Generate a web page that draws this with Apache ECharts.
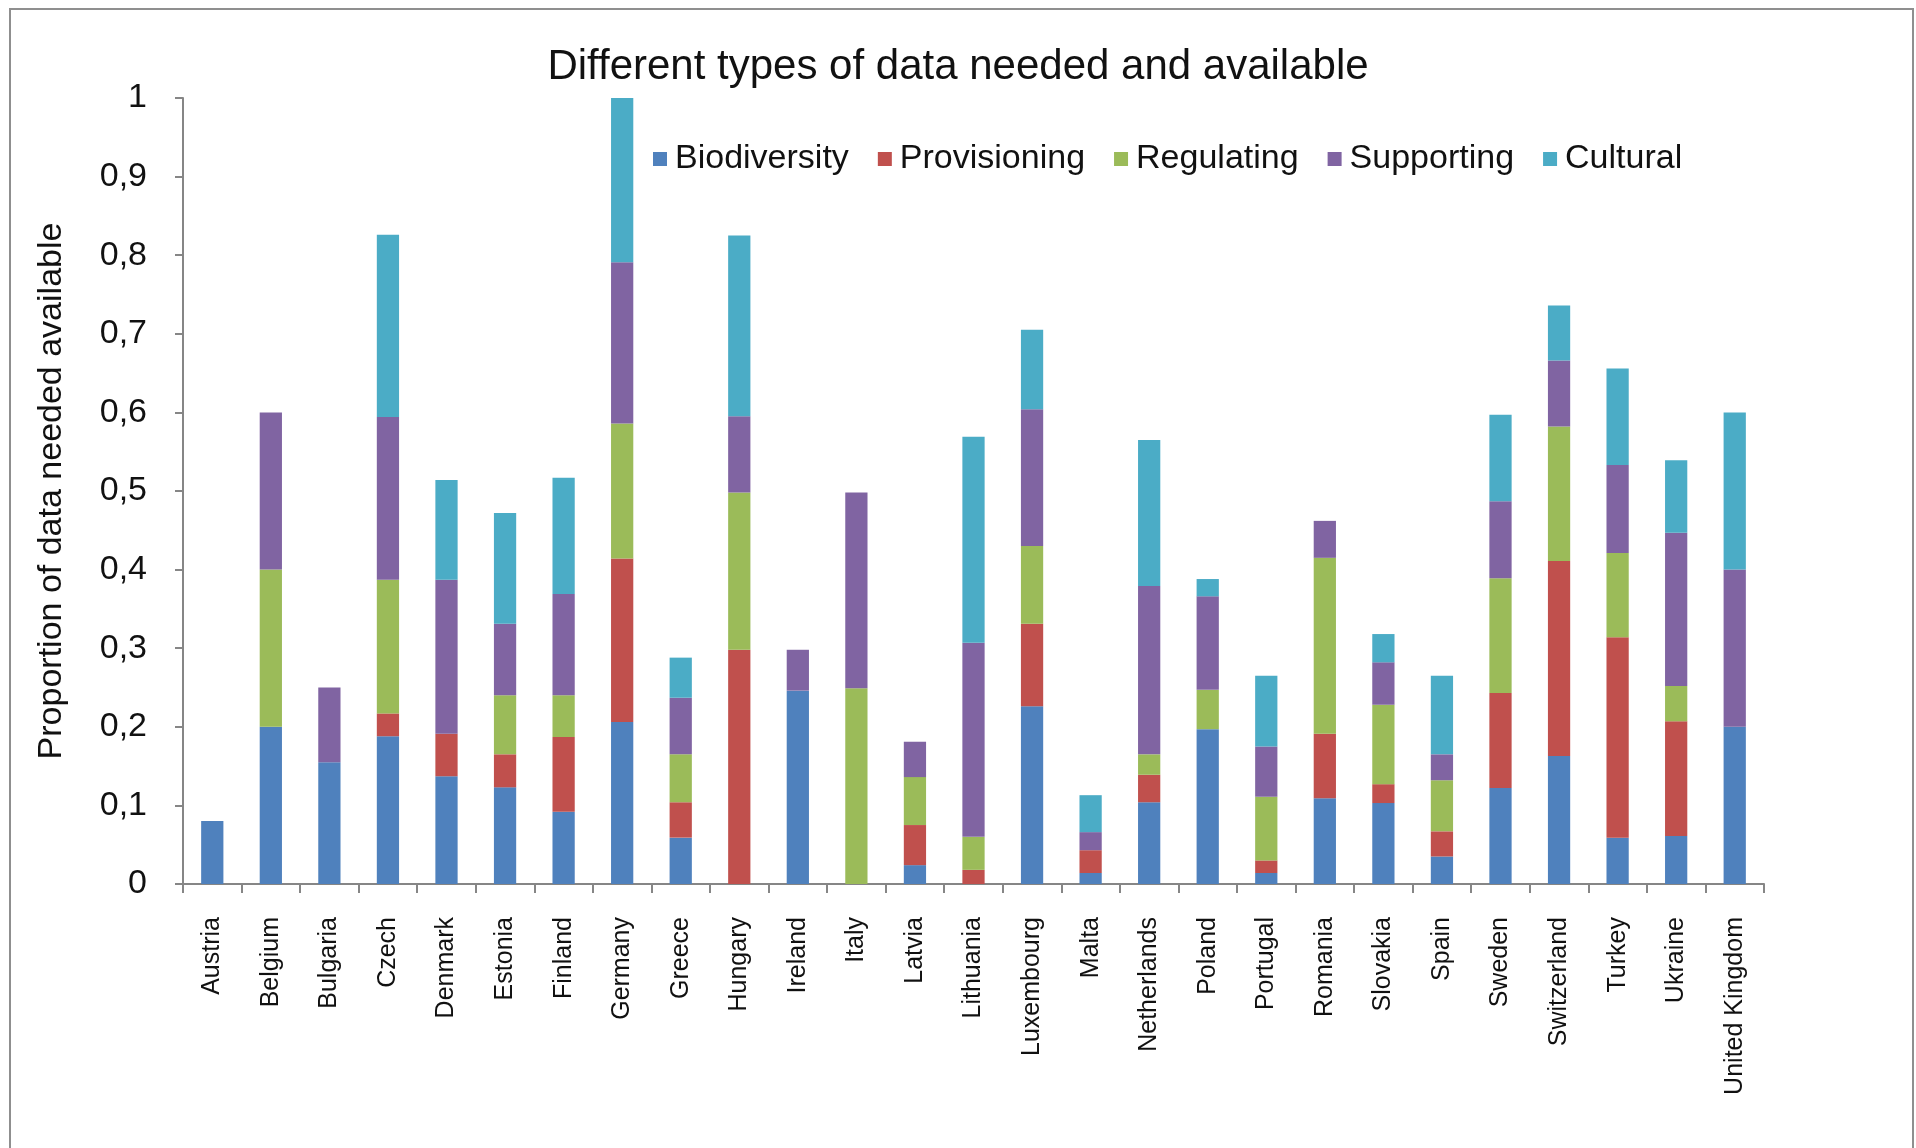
<!DOCTYPE html>
<html>
<head>
<meta charset="utf-8">
<script src="https://cdn.jsdelivr.net/npm/echarts@6/dist/echarts.min.js"></script>
<style>
html,body{margin:0;padding:0;background:#fff;}
#chart{width:1916px;height:1148px;}
</style>
</head>
<body>
<div id="chart"></div>
<script>
const categories = ['Austria','Belgium','Bulgaria','Czech','Denmark','Estonia','Finland','Germany','Greece','Hungary','Ireland','Italy','Latvia','Lithuania','Luxembourg','Malta','Netherlands','Poland','Portugal','Romania','Slovakia','Spain','Sweden','Switzerland','Turkey','Ukraine','United Kingdom'];
const biodiversity = [0.08, 0.2, 0.155, 0.188, 0.137, 0.123, 0.092, 0.206, 0.059, 0, 0.246, 0, 0.024, 0, 0.226, 0.014, 0.104, 0.197, 0.014, 0.109, 0.103, 0.035, 0.122, 0.163, 0.059, 0.061, 0.2];
const provisioning = [0, 0, 0, 0.029, 0.054, 0.042, 0.095, 0.208, 0.045, 0.298, 0, 0, 0.051, 0.018, 0.105, 0.029, 0.035, 0, 0.016, 0.082, 0.024, 0.032, 0.121, 0.248, 0.255, 0.146, 0];
const regulating = [0, 0.2, 0, 0.17, 0, 0.075, 0.053, 0.172, 0.061, 0.2, 0, 0.249, 0.061, 0.042, 0.099, 0, 0.026, 0.05, 0.081, 0.224, 0.101, 0.065, 0.146, 0.171, 0.107, 0.045, 0];
const supporting = [0, 0.2, 0.095, 0.207, 0.196, 0.091, 0.129, 0.205, 0.072, 0.097, 0.052, 0.249, 0.045, 0.247, 0.174, 0.023, 0.214, 0.119, 0.064, 0.047, 0.054, 0.033, 0.098, 0.084, 0.112, 0.195, 0.2];
const cultural = [0, 0, 0, 0.232, 0.127, 0.141, 0.148, 0.209, 0.051, 0.23, 0, 0, 0, 0.262, 0.101, 0.047, 0.186, 0.022, 0.09, 0, 0.036, 0.1, 0.11, 0.07, 0.123, 0.092, 0.2];
const seriesNames = ['Biodiversity','Provisioning','Regulating','Supporting','Cultural'];
const seriesColors = ['#4F81BD','#C0504D','#9BBB59','#8064A2','#4BACC6'];
const titleText = 'Different types of data needed and available';
const yAxisName = 'Proportion of data needed available';

const seriesData = [biodiversity, provisioning, regulating, supporting, cultural];
const font = '"Liberation Sans", Arial, sans-serif';
const chart = echarts.init(document.getElementById('chart'));
chart.setOption({
  animation: false,
  backgroundColor: '#ffffff',
  textStyle: { fontFamily: font },
  graphic: [{
    type: 'rect', silent: true, z: -1,
    shape: { x: 10, y: 9, width: 1903, height: 1170 },
    style: { fill: 'none', stroke: '#8f8f8f', lineWidth: 2 }
  }],
  title: {
    text: titleText, left: 'center', top: 41,
    textStyle: { fontFamily: font, fontSize: 42, fontWeight: 'normal', color: '#111' }
  },
  legend: {
    data: seriesNames, left: 648, top: 137, icon: 'rect',
    itemWidth: 14, itemHeight: 14, itemGap: 29,
    textStyle: { fontFamily: font, fontSize: 34, color: '#111', padding: [0,0,0,3] }
  },
  grid: { left: 183, right: 152, top: 98, bottom: 264, containLabel: false },
  xAxis: {
    type: 'category', data: categories, boundaryGap: true,
    axisLine: { lineStyle: { color: '#868686', width: 2 } },
    axisTick: { show: true, length: 9, alignWithLabel: false, lineStyle: { color: '#868686', width: 2 } },
    axisLabel: { rotate: 90, interval: 0, margin: 33, fontFamily: font, fontSize: 25, color: '#111' }
  },
  yAxis: {
    type: 'value', min: 0, max: 1, interval: 0.1,
    name: yAxisName, nameLocation: 'middle', nameGap: 114,
    nameTextStyle: { fontFamily: font, fontSize: 34, color: '#111' },
    splitLine: { show: false },
    axisLine: { show: true, lineStyle: { color: '#868686', width: 2 } },
    axisTick: { show: true, length: 8, lineStyle: { color: '#868686', width: 2 } },
    axisLabel: {
      margin: 36, fontFamily: font, fontSize: 34, color: '#111',
      formatter: v => String(+v.toFixed(1)).replace('.', ',')
    }
  },
  series: seriesNames.map((n, i) => ({
    name: n, type: 'bar', stack: 'total', barWidth: '38%',
    itemStyle: { color: seriesColors[i] },
    data: seriesData[i]
  }))
});
</script>
</body>
</html>
